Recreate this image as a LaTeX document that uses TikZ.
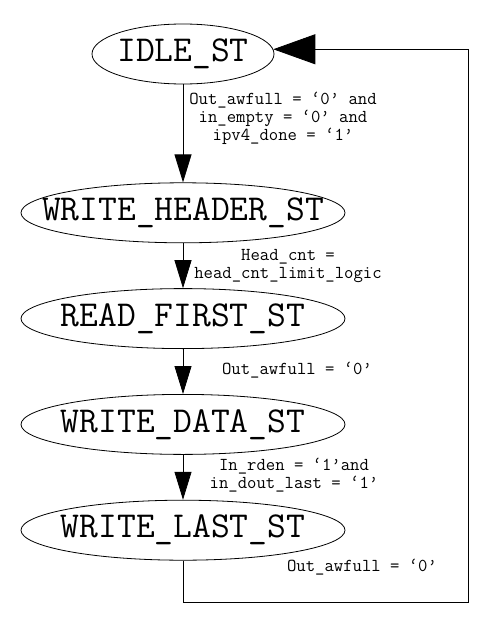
\documentclass[tikz,border=0pt]{standalone}
\usepackage{fontspec}
\usetikzlibrary{arrows.meta,positioning,shapes.geometric}
\newcommand{\stname}[1]{\makebox[0pt]{#1}}

\begin{document}
\begin{tikzpicture}[x=1pt, y=-1pt, node distance=45pt, line width=0.8pt]
      \tikzstyle{st}=[ellipse,draw,inner sep=0pt,minimum width=324pt,minimum height=60pt,font=\ttfamily\fontsize{36.5}{40}\selectfont]
      \tikzstyle{cond}=[align=center,inner sep=0pt,font=\ttfamily\fontsize{18.2}{18}\selectfont]
      \tikzstyle{go}=[-{Triangle[length=28pt,width=17pt]}]
      \useasboundingbox (0,0) rectangle (495,631);

      % states
      \node[st,minimum width=182pt] (idle) at (183,54) {\stname{IDLE\_ST}};
      \node[st,below=98pt of idle] (whead) {\stname{WRITE\_HEADER\_ST}};
      \node[st,below=of whead] (rfirst) {\stname{READ\_FIRST\_ST}};
      \node[st,below=of rfirst] (wdata) {\stname{WRITE\_DATA\_ST}};
      \node[st,below=of wdata] (wlast) {\stname{WRITE\_LAST\_ST}};
      \coordinate (corner) at (468,602);

      % conditions
      \node[cond] (c1) at (283,118) {Out\_awfull = ‘0’ and\\in\_empty = ‘0’ and\\ipv4\_done = ‘1’};
      \node[cond] (c2) at (288,266) {Head\_cnt =\\head\_cnt\_limit\_logic};
      \node[cond] (c3) at (297,370) {Out\_awfull = ‘0’};
      \node[cond] (c4) at (294,475) {In\_rden = ‘1’and\\in\_dout\_last = ‘1’};
      \node[cond] (c5) at (362,567) {Out\_awfull = ‘0’};

      % transitions
      \draw[go] (idle) -- (whead);
      \draw[go] (whead) -- (rfirst);
      \draw[go] (rfirst) -- (wdata);
      \draw[go] (wdata) -- (wlast);
      \draw[-{Triangle[length=42pt,width=30pt]}] (wlast.south) |- (corner) |- (idle.3);
    \end{tikzpicture}
\end{document}
